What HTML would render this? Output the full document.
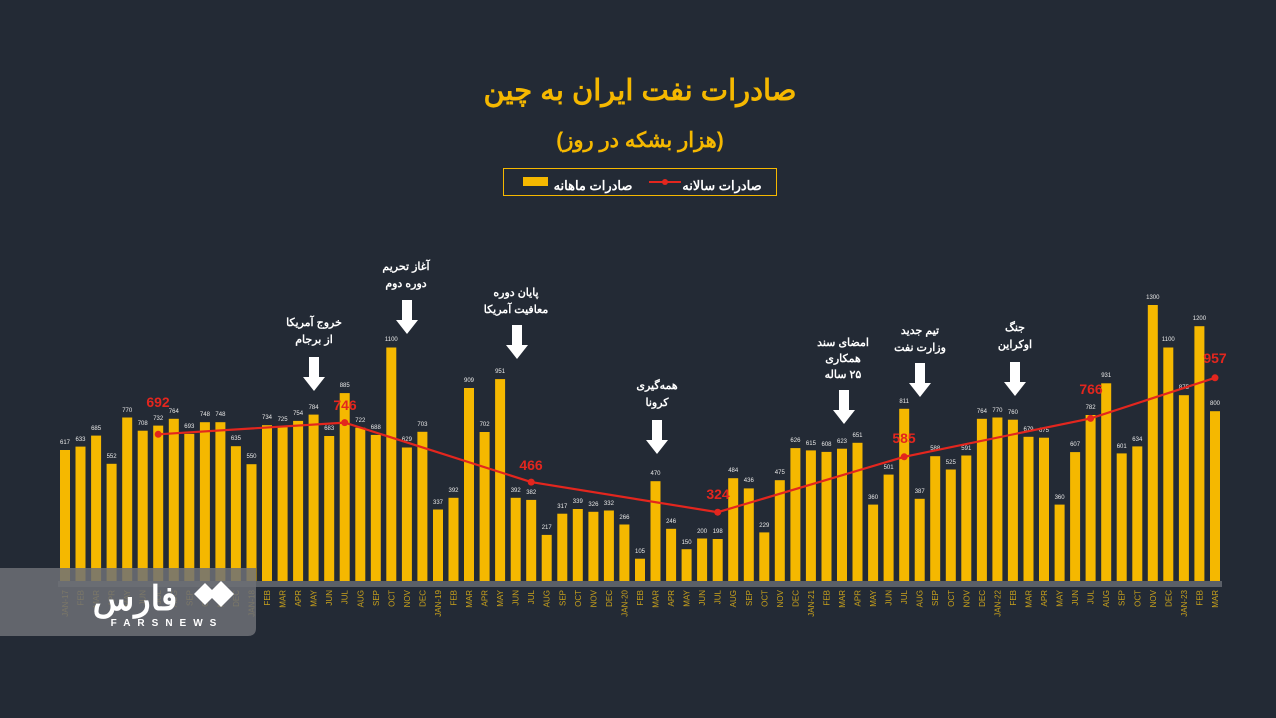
<!DOCTYPE html>
<html><head><meta charset="utf-8"><style>
html,body{margin:0;padding:0;background:#232a35;}
svg{display:block}
.v{font:6px "Liberation Sans",sans-serif;fill:#e8e8e8;text-anchor:middle}
.m{font:8px "Liberation Sans",sans-serif;fill:#c9a21c;text-anchor:end}
.a{font:bold 11px "Liberation Sans","Noto Sans CJK SC",sans-serif;fill:#fff;text-anchor:middle}
.r{font:bold 14px "Liberation Sans",sans-serif;fill:#e3261e;text-anchor:middle}
</style></head><body>
<svg width="1276" height="718" viewBox="0 0 1276 718" xmlns="http://www.w3.org/2000/svg">
<rect width="1276" height="718" fill="#232a35"/>
<text x="640" y="100" font-family="Liberation Sans,Noto Sans CJK SC,sans-serif" font-weight="bold" font-size="29" fill="#f5b800" text-anchor="middle" direction="rtl">صادرات نفت ایران به چین</text>
<text x="640" y="147" font-family="Liberation Sans,Noto Sans CJK SC,sans-serif" font-weight="bold" font-size="21" fill="#f5b800" text-anchor="middle" direction="rtl">(هزار بشکه در روز)</text>
<rect x="503.5" y="168.5" width="273" height="27" fill="none" stroke="#f5b800" stroke-width="1"/>
<rect x="523" y="177" width="25" height="9" fill="#f5b800"/>
<text x="593" y="190" font-family="Liberation Sans,Noto Sans CJK SC,sans-serif" font-weight="bold" font-size="13" fill="#fff" text-anchor="middle" direction="rtl">صادرات ماهانه</text>
<line x1="649" y1="182" x2="681" y2="182" stroke="#e3261e" stroke-width="2"/><circle cx="665" cy="182" r="3" fill="#e3261e"/>
<text x="722" y="190" font-family="Liberation Sans,Noto Sans CJK SC,sans-serif" font-weight="bold" font-size="13" fill="#fff" text-anchor="middle" direction="rtl">صادرات سالانه</text>
<rect x="58" y="581" width="1164" height="6" fill="#5b6068"/>
<g fill="#f5b800">
<g transform="translate(65,0)"><rect x="-5" y="450" width="10" height="131"/><text class="v" y="444">617</text><text class="m" transform="translate(3,590) rotate(-90)">JAN-17</text></g>
<g transform="translate(80.5,0)"><rect x="-5" y="446.6" width="10" height="134.4"/><text class="v" y="441">633</text><text class="m" transform="translate(3,590) rotate(-90)">FEB</text></g>
<g transform="translate(96.1,0)"><rect x="-5" y="435.6" width="10" height="145.4"/><text class="v" y="430">685</text><text class="m" transform="translate(3,590) rotate(-90)">MAR</text></g>
<g transform="translate(111.6,0)"><rect x="-5" y="463.8" width="10" height="117.2"/><text class="v" y="458">552</text><text class="m" transform="translate(3,590) rotate(-90)">APR</text></g>
<g transform="translate(127.2,0)"><rect x="-5" y="417.5" width="10" height="163.5"/><text class="v" y="412">770</text><text class="m" transform="translate(3,590) rotate(-90)">MAY</text></g>
<g transform="translate(142.7,0)"><rect x="-5" y="430.7" width="10" height="150.3"/><text class="v" y="425">708</text><text class="m" transform="translate(3,590) rotate(-90)">JUN</text></g>
<g transform="translate(158.2,0)"><rect x="-5" y="425.6" width="10" height="155.4"/><text class="v" y="420">732</text><text class="m" transform="translate(3,590) rotate(-90)">JUL</text></g>
<g transform="translate(173.8,0)"><rect x="-5" y="418.8" width="10" height="162.2"/><text class="v" y="413">764</text><text class="m" transform="translate(3,590) rotate(-90)">AUG</text></g>
<g transform="translate(189.3,0)"><rect x="-5" y="433.9" width="10" height="147.1"/><text class="v" y="428">693</text><text class="m" transform="translate(3,590) rotate(-90)">SEP</text></g>
<g transform="translate(204.9,0)"><rect x="-5" y="422.2" width="10" height="158.8"/><text class="v" y="416">748</text><text class="m" transform="translate(3,590) rotate(-90)">OCT</text></g>
<g transform="translate(220.4,0)"><rect x="-5" y="422.2" width="10" height="158.8"/><text class="v" y="416">748</text><text class="m" transform="translate(3,590) rotate(-90)">NOV</text></g>
<g transform="translate(235.9,0)"><rect x="-5" y="446.2" width="10" height="134.8"/><text class="v" y="440">635</text><text class="m" transform="translate(3,590) rotate(-90)">DEC</text></g>
<g transform="translate(251.5,0)"><rect x="-5" y="464.2" width="10" height="116.8"/><text class="v" y="458">550</text><text class="m" transform="translate(3,590) rotate(-90)">JAN-18</text></g>
<g transform="translate(267,0)"><rect x="-5" y="425.2" width="10" height="155.8"/><text class="v" y="419">734</text><text class="m" transform="translate(3,590) rotate(-90)">FEB</text></g>
<g transform="translate(282.6,0)"><rect x="-5" y="427.1" width="10" height="153.9"/><text class="v" y="421">725</text><text class="m" transform="translate(3,590) rotate(-90)">MAR</text></g>
<g transform="translate(298.1,0)"><rect x="-5" y="420.9" width="10" height="160.1"/><text class="v" y="415">754</text><text class="m" transform="translate(3,590) rotate(-90)">APR</text></g>
<g transform="translate(313.6,0)"><rect x="-5" y="414.6" width="10" height="166.4"/><text class="v" y="409">784</text><text class="m" transform="translate(3,590) rotate(-90)">MAY</text></g>
<g transform="translate(329.2,0)"><rect x="-5" y="436" width="10" height="145"/><text class="v" y="430">683</text><text class="m" transform="translate(3,590) rotate(-90)">JUN</text></g>
<g transform="translate(344.7,0)"><rect x="-5" y="393.1" width="10" height="187.9"/><text class="v" y="387">885</text><text class="m" transform="translate(3,590) rotate(-90)">JUL</text></g>
<g transform="translate(360.3,0)"><rect x="-5" y="427.7" width="10" height="153.3"/><text class="v" y="422">722</text><text class="m" transform="translate(3,590) rotate(-90)">AUG</text></g>
<g transform="translate(375.8,0)"><rect x="-5" y="434.9" width="10" height="146.1"/><text class="v" y="429">688</text><text class="m" transform="translate(3,590) rotate(-90)">SEP</text></g>
<g transform="translate(391.3,0)"><rect x="-5" y="347.5" width="10" height="233.5"/><text class="v" y="341">1100</text><text class="m" transform="translate(3,590) rotate(-90)">OCT</text></g>
<g transform="translate(406.9,0)"><rect x="-5" y="447.5" width="10" height="133.5"/><text class="v" y="441">629</text><text class="m" transform="translate(3,590) rotate(-90)">NOV</text></g>
<g transform="translate(422.4,0)"><rect x="-5" y="431.8" width="10" height="149.2"/><text class="v" y="426">703</text><text class="m" transform="translate(3,590) rotate(-90)">DEC</text></g>
<g transform="translate(438,0)"><rect x="-5" y="509.5" width="10" height="71.5"/><text class="v" y="504">337</text><text class="m" transform="translate(3,590) rotate(-90)">JAN-19</text></g>
<g transform="translate(453.5,0)"><rect x="-5" y="497.8" width="10" height="83.2"/><text class="v" y="492">392</text><text class="m" transform="translate(3,590) rotate(-90)">FEB</text></g>
<g transform="translate(469,0)"><rect x="-5" y="388" width="10" height="193"/><text class="v" y="382">909</text><text class="m" transform="translate(3,590) rotate(-90)">MAR</text></g>
<g transform="translate(484.6,0)"><rect x="-5" y="432" width="10" height="149"/><text class="v" y="426">702</text><text class="m" transform="translate(3,590) rotate(-90)">APR</text></g>
<g transform="translate(500.1,0)"><rect x="-5" y="379.1" width="10" height="201.9"/><text class="v" y="373">951</text><text class="m" transform="translate(3,590) rotate(-90)">MAY</text></g>
<g transform="translate(515.7,0)"><rect x="-5" y="497.8" width="10" height="83.2"/><text class="v" y="492">392</text><text class="m" transform="translate(3,590) rotate(-90)">JUN</text></g>
<g transform="translate(531.2,0)"><rect x="-5" y="499.9" width="10" height="81.1"/><text class="v" y="494">382</text><text class="m" transform="translate(3,590) rotate(-90)">JUL</text></g>
<g transform="translate(546.7,0)"><rect x="-5" y="534.9" width="10" height="46.1"/><text class="v" y="529">217</text><text class="m" transform="translate(3,590) rotate(-90)">AUG</text></g>
<g transform="translate(562.3,0)"><rect x="-5" y="513.7" width="10" height="67.3"/><text class="v" y="508">317</text><text class="m" transform="translate(3,590) rotate(-90)">SEP</text></g>
<g transform="translate(577.8,0)"><rect x="-5" y="509" width="10" height="72"/><text class="v" y="503">339</text><text class="m" transform="translate(3,590) rotate(-90)">OCT</text></g>
<g transform="translate(593.4,0)"><rect x="-5" y="511.8" width="10" height="69.2"/><text class="v" y="506">326</text><text class="m" transform="translate(3,590) rotate(-90)">NOV</text></g>
<g transform="translate(608.9,0)"><rect x="-5" y="510.5" width="10" height="70.5"/><text class="v" y="505">332</text><text class="m" transform="translate(3,590) rotate(-90)">DEC</text></g>
<g transform="translate(624.4,0)"><rect x="-5" y="524.5" width="10" height="56.5"/><text class="v" y="519">266</text><text class="m" transform="translate(3,590) rotate(-90)">JAN-20</text></g>
<g transform="translate(640,0)"><rect x="-5" y="558.7" width="10" height="22.3"/><text class="v" y="553">105</text><text class="m" transform="translate(3,590) rotate(-90)">FEB</text></g>
<g transform="translate(655.5,0)"><rect x="-5" y="481.2" width="10" height="99.8"/><text class="v" y="475">470</text><text class="m" transform="translate(3,590) rotate(-90)">MAR</text></g>
<g transform="translate(671.1,0)"><rect x="-5" y="528.8" width="10" height="52.2"/><text class="v" y="523">246</text><text class="m" transform="translate(3,590) rotate(-90)">APR</text></g>
<g transform="translate(686.6,0)"><rect x="-5" y="549.2" width="10" height="31.8"/><text class="v" y="544">150</text><text class="m" transform="translate(3,590) rotate(-90)">MAY</text></g>
<g transform="translate(702.1,0)"><rect x="-5" y="538.5" width="10" height="42.5"/><text class="v" y="533">200</text><text class="m" transform="translate(3,590) rotate(-90)">JUN</text></g>
<g transform="translate(717.7,0)"><rect x="-5" y="539" width="10" height="42"/><text class="v" y="533">198</text><text class="m" transform="translate(3,590) rotate(-90)">JUL</text></g>
<g transform="translate(733.2,0)"><rect x="-5" y="478.2" width="10" height="102.8"/><text class="v" y="472">484</text><text class="m" transform="translate(3,590) rotate(-90)">AUG</text></g>
<g transform="translate(748.8,0)"><rect x="-5" y="488.4" width="10" height="92.6"/><text class="v" y="482">436</text><text class="m" transform="translate(3,590) rotate(-90)">SEP</text></g>
<g transform="translate(764.3,0)"><rect x="-5" y="532.4" width="10" height="48.6"/><text class="v" y="527">229</text><text class="m" transform="translate(3,590) rotate(-90)">OCT</text></g>
<g transform="translate(779.8,0)"><rect x="-5" y="480.2" width="10" height="100.8"/><text class="v" y="474">475</text><text class="m" transform="translate(3,590) rotate(-90)">NOV</text></g>
<g transform="translate(795.4,0)"><rect x="-5" y="448.1" width="10" height="132.9"/><text class="v" y="442">626</text><text class="m" transform="translate(3,590) rotate(-90)">DEC</text></g>
<g transform="translate(810.9,0)"><rect x="-5" y="450.4" width="10" height="130.6"/><text class="v" y="445">615</text><text class="m" transform="translate(3,590) rotate(-90)">JAN-21</text></g>
<g transform="translate(826.5,0)"><rect x="-5" y="451.9" width="10" height="129.1"/><text class="v" y="446">608</text><text class="m" transform="translate(3,590) rotate(-90)">FEB</text></g>
<g transform="translate(842,0)"><rect x="-5" y="448.7" width="10" height="132.3"/><text class="v" y="443">623</text><text class="m" transform="translate(3,590) rotate(-90)">MAR</text></g>
<g transform="translate(857.5,0)"><rect x="-5" y="442.8" width="10" height="138.2"/><text class="v" y="437">651</text><text class="m" transform="translate(3,590) rotate(-90)">APR</text></g>
<g transform="translate(873.1,0)"><rect x="-5" y="504.6" width="10" height="76.4"/><text class="v" y="499">360</text><text class="m" transform="translate(3,590) rotate(-90)">MAY</text></g>
<g transform="translate(888.6,0)"><rect x="-5" y="474.6" width="10" height="106.4"/><text class="v" y="469">501</text><text class="m" transform="translate(3,590) rotate(-90)">JUN</text></g>
<g transform="translate(904.2,0)"><rect x="-5" y="408.8" width="10" height="172.2"/><text class="v" y="403">811</text><text class="m" transform="translate(3,590) rotate(-90)">JUL</text></g>
<g transform="translate(919.7,0)"><rect x="-5" y="498.8" width="10" height="82.2"/><text class="v" y="493">387</text><text class="m" transform="translate(3,590) rotate(-90)">AUG</text></g>
<g transform="translate(935.2,0)"><rect x="-5" y="456.2" width="10" height="124.8"/><text class="v" y="450">588</text><text class="m" transform="translate(3,590) rotate(-90)">SEP</text></g>
<g transform="translate(950.8,0)"><rect x="-5" y="469.5" width="10" height="111.5"/><text class="v" y="464">525</text><text class="m" transform="translate(3,590) rotate(-90)">OCT</text></g>
<g transform="translate(966.3,0)"><rect x="-5" y="455.5" width="10" height="125.5"/><text class="v" y="450">591</text><text class="m" transform="translate(3,590) rotate(-90)">NOV</text></g>
<g transform="translate(981.9,0)"><rect x="-5" y="418.8" width="10" height="162.2"/><text class="v" y="413">764</text><text class="m" transform="translate(3,590) rotate(-90)">DEC</text></g>
<g transform="translate(997.4,0)"><rect x="-5" y="417.5" width="10" height="163.5"/><text class="v" y="412">770</text><text class="m" transform="translate(3,590) rotate(-90)">JAN-22</text></g>
<g transform="translate(1012.9,0)"><rect x="-5" y="419.7" width="10" height="161.3"/><text class="v" y="414">760</text><text class="m" transform="translate(3,590) rotate(-90)">FEB</text></g>
<g transform="translate(1028.5,0)"><rect x="-5" y="436.8" width="10" height="144.2"/><text class="v" y="431">679</text><text class="m" transform="translate(3,590) rotate(-90)">MAR</text></g>
<g transform="translate(1044,0)"><rect x="-5" y="437.7" width="10" height="143.3"/><text class="v" y="432">675</text><text class="m" transform="translate(3,590) rotate(-90)">APR</text></g>
<g transform="translate(1059.6,0)"><rect x="-5" y="504.6" width="10" height="76.4"/><text class="v" y="499">360</text><text class="m" transform="translate(3,590) rotate(-90)">MAY</text></g>
<g transform="translate(1075.1,0)"><rect x="-5" y="452.1" width="10" height="128.9"/><text class="v" y="446">607</text><text class="m" transform="translate(3,590) rotate(-90)">JUN</text></g>
<g transform="translate(1090.6,0)"><rect x="-5" y="415" width="10" height="166"/><text class="v" y="409">782</text><text class="m" transform="translate(3,590) rotate(-90)">JUL</text></g>
<g transform="translate(1106.2,0)"><rect x="-5" y="383.3" width="10" height="197.7"/><text class="v" y="377">931</text><text class="m" transform="translate(3,590) rotate(-90)">AUG</text></g>
<g transform="translate(1121.7,0)"><rect x="-5" y="453.4" width="10" height="127.6"/><text class="v" y="448">601</text><text class="m" transform="translate(3,590) rotate(-90)">SEP</text></g>
<g transform="translate(1137.3,0)"><rect x="-5" y="446.4" width="10" height="134.6"/><text class="v" y="441">634</text><text class="m" transform="translate(3,590) rotate(-90)">OCT</text></g>
<g transform="translate(1152.8,0)"><rect x="-5" y="305" width="10" height="276"/><text class="v" y="299">1300</text><text class="m" transform="translate(3,590) rotate(-90)">NOV</text></g>
<g transform="translate(1168.3,0)"><rect x="-5" y="347.5" width="10" height="233.5"/><text class="v" y="341">1100</text><text class="m" transform="translate(3,590) rotate(-90)">DEC</text></g>
<g transform="translate(1183.9,0)"><rect x="-5" y="395.2" width="10" height="185.8"/><text class="v" y="389">875</text><text class="m" transform="translate(3,590) rotate(-90)">JAN-23</text></g>
<g transform="translate(1199.4,0)"><rect x="-5" y="326.2" width="10" height="254.8"/><text class="v" y="320">1200</text><text class="m" transform="translate(3,590) rotate(-90)">FEB</text></g>
<g transform="translate(1215,0)"><rect x="-5" y="411.2" width="10" height="169.8"/><text class="v" y="405">800</text><text class="m" transform="translate(3,590) rotate(-90)">MAR</text></g>
</g>
<polyline points="158.2,434.3 344.7,422.6 531.2,482.1 717.7,512.2 904.2,456.8 1090.6,418.4 1215,377.8" fill="none" stroke="#e3261e" stroke-width="2.2"/>
<g fill="#e3261e"><circle cx="158.2" cy="434.3" r="3.5"/><circle cx="344.7" cy="422.6" r="3.5"/><circle cx="531.2" cy="482.1" r="3.5"/><circle cx="717.7" cy="512.2" r="3.5"/><circle cx="904.2" cy="456.8" r="3.5"/><circle cx="1090.6" cy="418.4" r="3.5"/><circle cx="1215" cy="377.8" r="3.5"/></g>
<text class="r" x="158" y="407">692</text><text class="r" x="345" y="410">746</text><text class="r" x="531" y="470">466</text><text class="r" x="718" y="499">324</text><text class="r" x="904" y="443">585</text><text class="r" x="1091" y="394">766</text><text class="r" x="1215" y="363">957</text>
<defs><path id="ar" d="M-5,0 H5 V20 H11 L0,34 L-11,20 H-5 Z" fill="#fff"/></defs>
<g direction="rtl">
<text class="a" x="314" y="326">خروج آمریکا</text><text class="a" x="314" y="343">از برجام</text><use href="#ar" x="314" y="357"/>
<text class="a" x="406" y="270">آغاز تحریم</text><text class="a" x="406" y="287">دوره دوم</text><use href="#ar" x="407" y="300"/>
<text class="a" x="516" y="296">پایان دوره</text><text class="a" x="516" y="313">معافیت آمریکا</text><use href="#ar" x="517" y="325"/>
<text class="a" x="657" y="389">همه‌گیری</text><text class="a" x="657" y="406">کرونا</text><use href="#ar" x="657" y="420"/>
<text class="a" x="843" y="346">امضای سند</text><text class="a" x="843" y="362">همکاری</text><text class="a" x="843" y="378">۲۵ ساله</text><use href="#ar" x="844" y="390"/>
<text class="a" x="920" y="334">تیم جدید</text><text class="a" x="920" y="351">وزارت نفت</text><use href="#ar" x="920" y="363"/>
<text class="a" x="1015" y="331">جنگ</text><text class="a" x="1015" y="348">اوکراین</text><use href="#ar" x="1015" y="362"/>
</g>
<path d="M0,568 H256 V628 Q256,636 248,636 H0 Z" fill="#6d7075" opacity="0.85"/>
<text x="135" y="610" font-family="Liberation Sans,Noto Sans CJK SC,sans-serif" font-weight="bold" font-size="34" fill="#fff" text-anchor="middle" direction="rtl">فارس</text>
<g fill="#fff"><path d="M205,583 L216,594 L205,605 L194,594 Z"/><path d="M221,581 L234,594 L221,607 L208,594 Z"/></g>
<text x="167" y="626" font-family="Liberation Sans,sans-serif" font-weight="bold" font-size="10" fill="#fff" text-anchor="middle" letter-spacing="7">FARSNEWS</text>
</svg>
</body></html>
